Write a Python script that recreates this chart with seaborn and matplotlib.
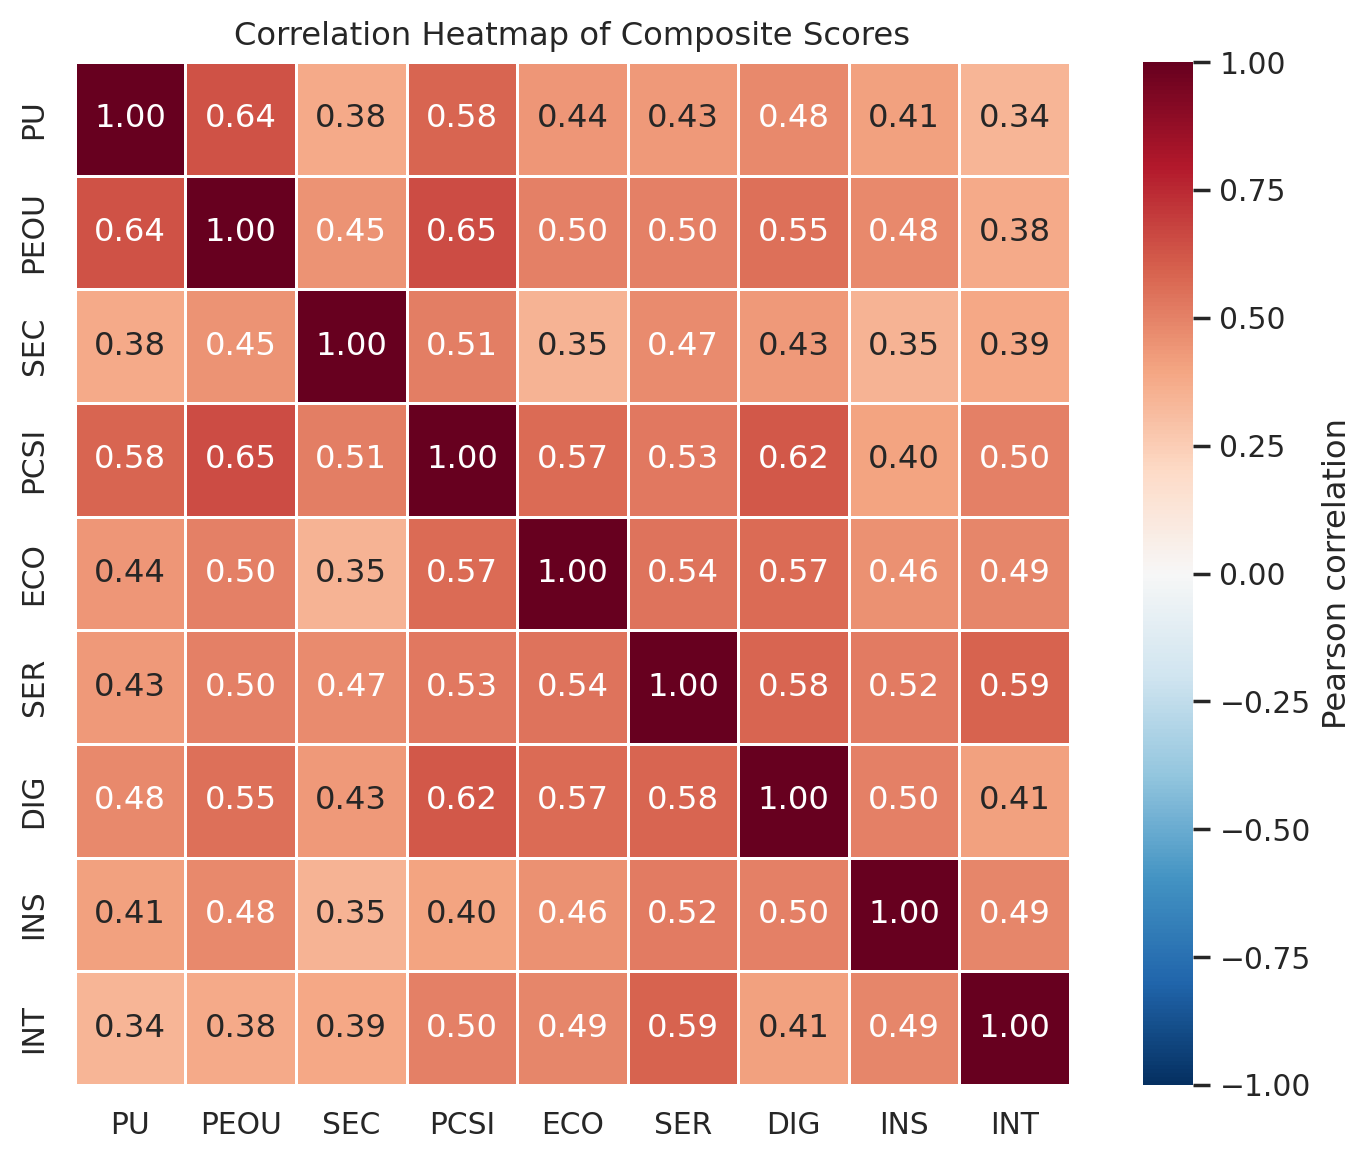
import numpy as np
import pandas as pd
import matplotlib
matplotlib.use("Agg")
import matplotlib.pyplot as plt
import seaborn as sns

labels = ["PU", "PEOU", "SEC", "PCSI", "ECO", "SER", "DIG", "INS", "INT"]
row_PU   = [1.00, 0.64, 0.38, 0.58, 0.44, 0.43, 0.48, 0.41, 0.34]
row_PEOU = [0.64, 1.00, 0.45, 0.65, 0.50, 0.50, 0.55, 0.48, 0.38]
row_SEC  = [0.38, 0.45, 1.00, 0.51, 0.35, 0.47, 0.43, 0.35, 0.39]
row_PCSI = [0.58, 0.65, 0.51, 1.00, 0.57, 0.53, 0.62, 0.40, 0.50]
row_ECO  = [0.44, 0.50, 0.35, 0.57, 1.00, 0.54, 0.57, 0.46, 0.49]
row_SER  = [0.43, 0.50, 0.47, 0.53, 0.54, 1.00, 0.58, 0.52, 0.59]
row_DIG  = [0.48, 0.55, 0.43, 0.62, 0.57, 0.58, 1.00, 0.50, 0.41]
row_INS  = [0.41, 0.48, 0.35, 0.40, 0.46, 0.52, 0.50, 1.00, 0.49]
row_INT  = [0.34, 0.38, 0.39, 0.50, 0.49, 0.59, 0.41, 0.49, 1.00]
cbar_ticks = [-1, -0.75, -0.5, -0.25, 0, 0.25, 0.5, 0.75, 1]

corr = pd.DataFrame([row_PU, row_PEOU, row_SEC, row_PCSI, row_ECO,
                     row_SER, row_DIG, row_INS, row_INT],
                    index=labels, columns=labels)

sns.set_theme(style="white", context="notebook")
plt.rcParams['font.family'] = ['DejaVu Sans']
plt.rcParams['xtick.labelsize'] = 10.7
plt.rcParams['ytick.labelsize'] = 10.7
plt.rcParams['axes.labelsize'] = 11.6
plt.rcParams['axes.titlesize'] = 11.6

fig = plt.figure(figsize=(6.85, 5.81), dpi=200)
ax = fig.add_axes([0.0547, 0.0663, 0.7263, 0.8803])
cax = fig.add_axes([0.8343, 0.0663, 0.0365, 0.8803])

sns.heatmap(corr, ax=ax, cbar_ax=cax, cmap="RdBu_r", vmin=-1, vmax=1,
            annot=True, fmt=".2f", annot_kws={"size": 11.6},
            linewidths=0.5, linecolor="white",
            cbar_kws={"label": "Pearson correlation", "ticks": cbar_ticks})
cax.set_yticklabels([f"{t:.2f}".replace("-", "\u2212") for t in cbar_ticks])
ax.set_yticklabels(labels, rotation=90, va="center")
ax.set_xticklabels(labels, rotation=0)
ax.set_title("Correlation Heatmap of Composite Scores")
ax.set_xlabel("")
ax.set_ylabel("")
fig.savefig("out.png", dpi=200)
